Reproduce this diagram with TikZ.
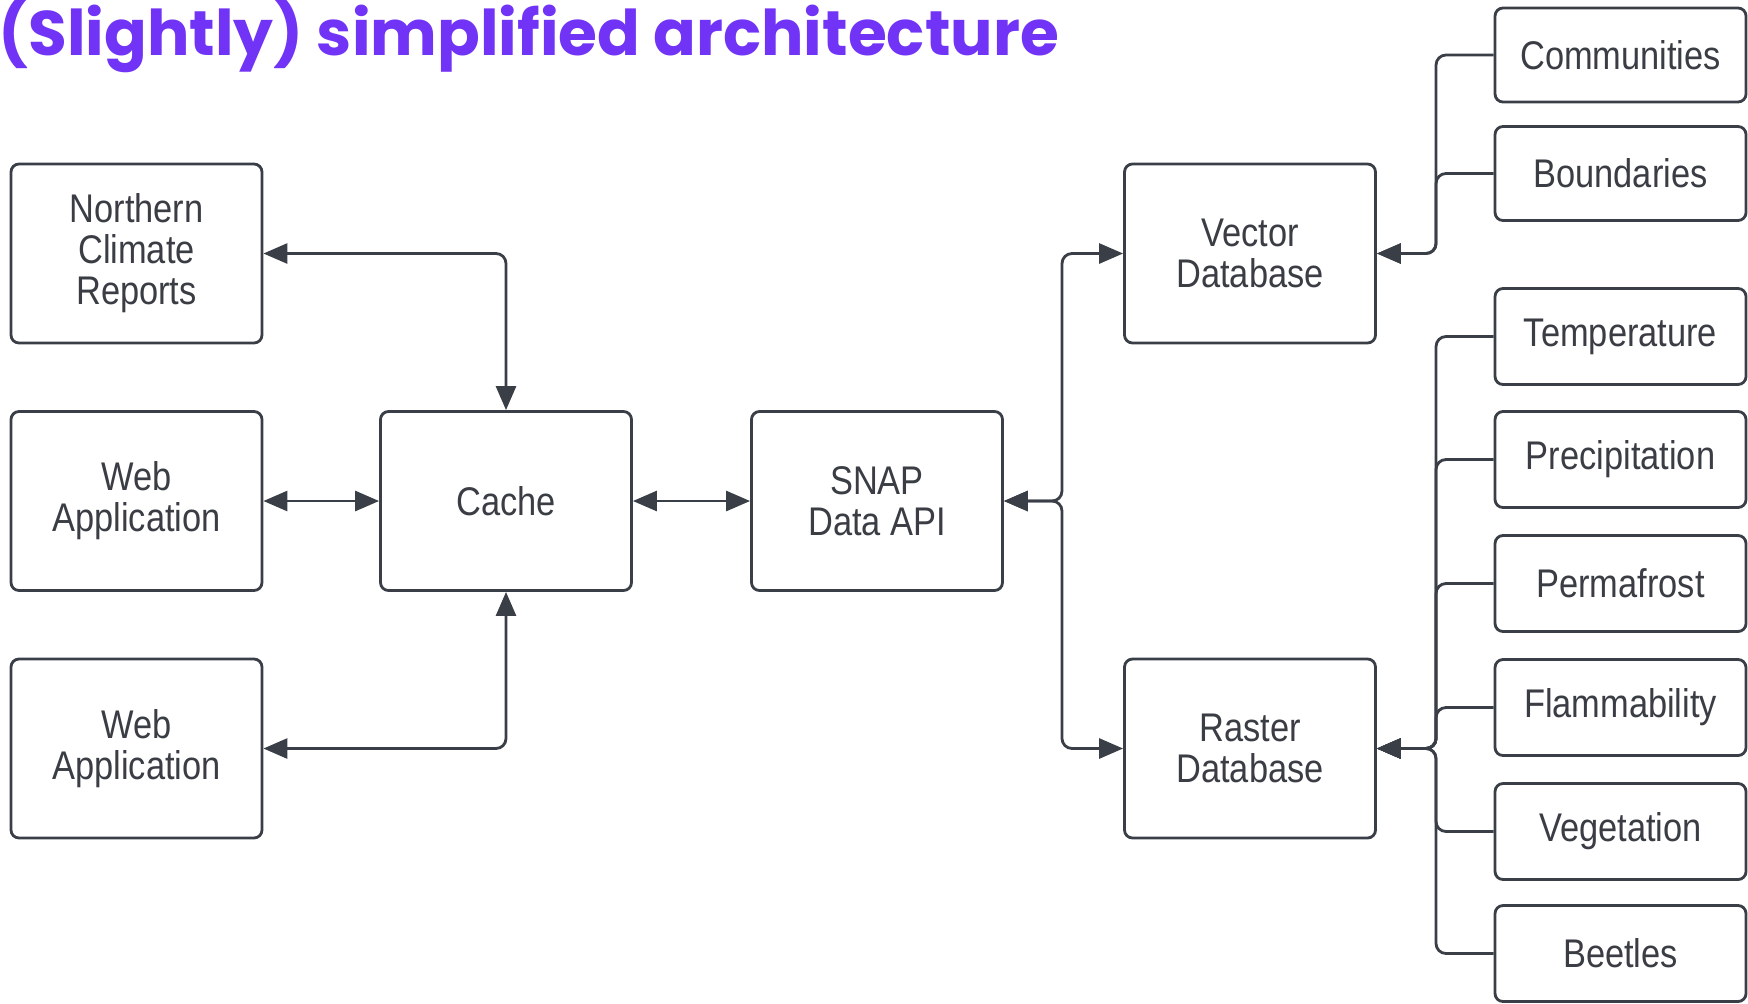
\documentclass[tikz,border=0pt]{standalone}
\usepackage{fontspec}
\newfontfamily\boxfont[FakeStretch=0.86]{Liberation Sans}
\newfontfamily\titlefont{Poppins}
\usetikzlibrary{arrows.meta}
\definecolor{linegray}{HTML}{3A3F47}
\definecolor{textgray}{HTML}{3A3D44}
\definecolor{titlepurple}{HTML}{7133F5}

\begin{document}
\begin{tikzpicture}[
  x=0.5pt, y=-0.5pt,
  font=\boxfont\fontsize{20}{20.5}\selectfont,
  box/.style={draw=linegray, line width=1.4pt, rounded corners=4pt, fill=white,
    text=textgray, align=center, minimum width=125.5pt, minimum height=#1},
  box/.default=89.5pt,
  arr/.style={line width=1.4pt, draw=linegray, rounded corners=5pt,
    >={Triangle[length=12pt,width=10pt]}}
]
\useasboundingbox (0,0) rectangle (1748,1003);

%% Title
\node[anchor=base west, inner sep=0pt, text=titlepurple,
  font=\titlefont\bfseries\fontsize{31.5}{36}\selectfont] (title) at (-2,55)
  {(Slightly) simplified architecture};

%% Clients
\node[box] (ncr) at (136.5,253.5) {Northern\\Climate\\Reports};
\node[box] (web1) at (136.5,501) {Web\\Application};
\node[box] (web2) at (136.5,748.5) {Web\\Application};

%% Cache and API
\node[box] (cache) at (506,501) {Cache};
\node[box] (api) at (877,501) {SNAP\\Data API};

%% Databases
\node[box] (vec) at (1250,253.5) {Vector\\Database};
\node[box] (ras) at (1250,748.5) {Raster\\Database};

%% Vector layers
\node[box=47pt] (comm) at (1620.5,55) {Communities};
\node[box=47pt] (bound) at (1620.5,173.5) {Boundaries};

%% Raster layers
\node[box=48pt] (temp) at (1620.5,336.5) {Temperature};
\node[box=48pt] (precip) at (1620.5,459.5) {Precipitation};
\node[box=48pt] (perma) at (1620.5,583.5) {Permafrost};
\node[box=48pt] (flam) at (1620.5,707.5) {Flammability};
\node[box=48pt] (veg) at (1620.5,831.5) {Vegetation};
\node[box=48pt] (beet) at (1620.5,953.5) {Beetles};

%% Bus lines
\coordinate (apibus) at (1062,501);
\coordinate (dbbus) at (1436,501);

%% Arrows
\draw[arr, <->] (ncr.east) -| (cache.north);
\draw[arr, <->] (web1) -- (cache);
\draw[arr, <->] (web2.east) -| (cache.south);
\draw[arr, <->] (cache) -- (api);
\draw[arr, <->] (api.east) -- (apibus) |- (vec.west);
\draw[arr, <->] (api.east) -- (apibus) |- (ras.west);

\foreach \n in {comm, bound}
  \draw[arr, ->] (\n.west) -- (\n.west -| dbbus) |- (vec.east);
\foreach \n in {temp, precip, perma, flam, veg, beet}
  \draw[arr, ->] (\n.west) -- (\n.west -| dbbus) |- (ras.east);
\end{tikzpicture}
\end{document}
